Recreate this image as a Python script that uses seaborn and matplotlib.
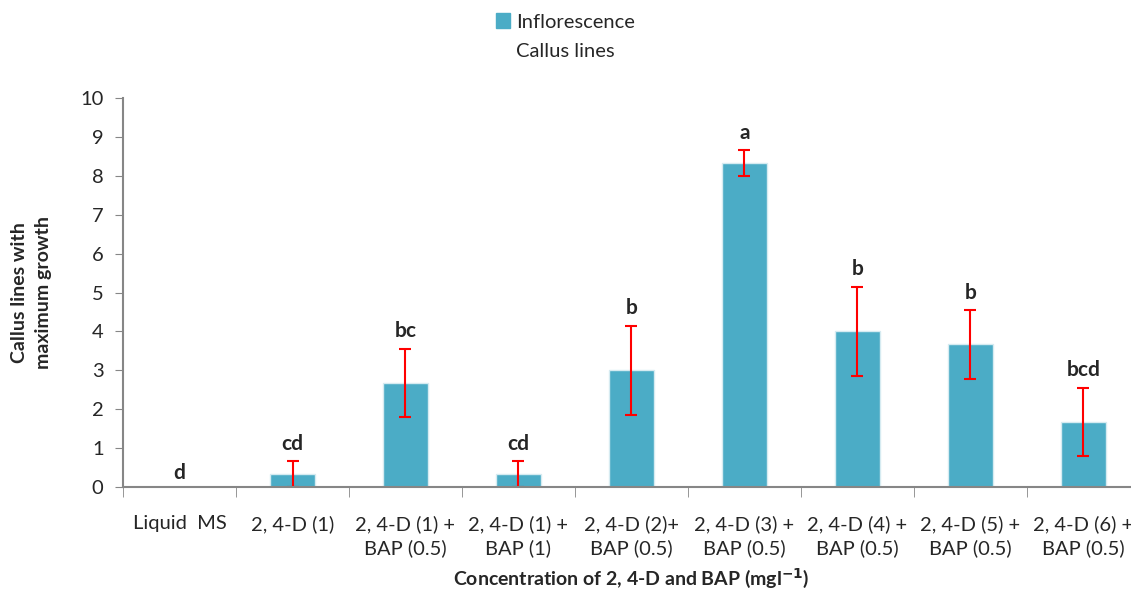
import matplotlib
matplotlib.use("Agg")
import matplotlib.pyplot as plt
import seaborn as sns
from matplotlib.patches import Patch

categories = ["Liquid  MS", "2, 4-D (1)", "2, 4-D (1) +\nBAP (0.5)", "2, 4-D (1) +\nBAP (1)",
              "2, 4-D (2)+\nBAP (0.5)", "2, 4-D (3) +\nBAP (0.5)", "2, 4-D (4) +\nBAP (0.5)",
              "2, 4-D (5) +\nBAP (0.5)", "2, 4-D (6) +\nBAP (0.5)"]
values = [0, 0.33, 2.67, 0.33, 3.0, 8.33, 4.0, 3.67, 1.67]
errors = [0, 0.33, 0.88, 0.33, 1.15, 0.33, 1.15, 0.88, 0.88]
letters = ["d", "cd", "bc", "cd", "b", "a", "b", "b", "bcd"]

sns.set_style("white")
plt.rcParams["font.family"] = ["Lato", "DejaVu Sans"]

BAR = "#4BACC6"
GREY = "#868686"

fig = plt.figure(figsize=(11.31, 5.94), dpi=100)
ax = fig.add_axes([0.1088, 0.180, 0.899, 0.655])

sns.barplot(x=categories, y=values, color=BAR, width=0.4, edgecolor="#d6ebf1",
            linewidth=1, saturation=1, ax=ax)
pos = list(range(len(categories)))
ax.errorbar(pos[1:], values[1:], yerr=errors[1:], fmt="none", ecolor="red",
            elinewidth=1.5, capsize=4, capthick=1.5)
for x, v, e, t in zip(pos, values, errors, letters):
    off = 0.36 if e == 0 else 0.45
    ax.text(x, v + e + off, t, ha="center", va="center", fontsize=15, fontweight="bold")

ax.set_xlim(-0.5, 8.5)
ax.set_ylim(0, 10)
ax.set_yticks(range(0, 11))
ax.tick_params(axis="y", labelsize=14.5, length=6, color=GREY, direction="out", left=True, pad=8)
ax.set_xticks(pos)
ax.set_xticklabels(categories, fontsize=14.5, linespacing=1.45)
ax.set_xticks([p - 0.5 for p in pos] + [8.5], minor=True)
ax.tick_params(axis="x", which="major", length=0, pad=20)
ax.tick_params(axis="x", which="minor", length=7, color=GREY, direction="out", bottom=True)
for s in ["top", "right"]:
    ax.spines[s].set_visible(False)
for s in ["left", "bottom"]:
    ax.spines[s].set_color(GREY)
    ax.spines[s].set_linewidth(1.5)

ax.set_xlabel("Concentration of 2, 4-D and BAP (mgl$^{\\mathbf{-1}}$)", fontsize=14,
              fontweight="bold", labelpad=6)
ax.set_ylabel("Callus lines with\nmaximum growth", fontsize=14, fontweight="bold",
              labelpad=20, linespacing=1.5)

fig.legend(handles=[Patch(color=BAR, label="Inflorescence")], loc="center",
           bbox_to_anchor=(0.5, 0.963), frameon=False, fontsize=14.5,
           handlelength=0.7, handleheight=0.7, handletextpad=0.3)
fig.text(0.5, 0.913, "Callus lines", ha="center", va="center", fontsize=14.5)

fig.savefig("out.png", dpi=100)
